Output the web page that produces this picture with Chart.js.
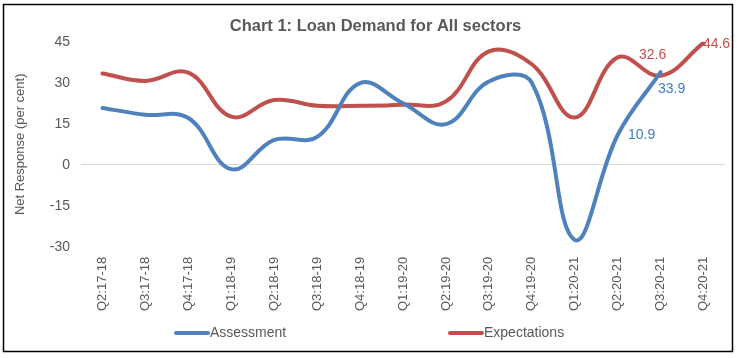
<!DOCTYPE html>
<html>
<head>
<meta charset="utf-8">
<script src="https://cdn.jsdelivr.net/npm/chart.js@4"></script>
<style>
    body { margin: 0; background: #fff; }
    #wrap { width: 737px; height: 358px; }
</style>
</head>
<body>
<div id="wrap"><canvas id="loanChart" width="737" height="358"></canvas></div>
<script>
const quarters = ['Q2:17-18', 'Q3:17-18', 'Q4:17-18', 'Q1:18-19', 'Q2:18-19', 'Q3:18-19', 'Q4:18-19',
    'Q1:19-20', 'Q2:19-20', 'Q3:19-20', 'Q4:19-20', 'Q1:20-21', 'Q2:20-21', 'Q3:20-21', 'Q4:20-21'];
const assessment = [20.8, 18.3, 17.1, -1.6, 9.1, 10.2, 29.9, 22.5, 14.9, 30.5, 30.0, -27.5, 10.9, 33.9, null];
const expectations = [33.4, 30.7, 33.7, 17.6, 23.7, 21.6, 21.6, 22.0, 23.2, 41.5, 36.8, 17.3, 39.3, 32.6, 44.6];
const yTicks = [-30, -15, 0, 15, 30, 45];
// which points carry a value label: [dataset, index]
const labelled = [[0, 12], [0, 13], [1, 13], [1, 14]];

const textGrey = '#595959';
const blue = '#4F81BD';
const red = '#C0504D';

// value labels, frame and legend
const extras = {
    id: 'extras',
    afterDatasetsDraw(chart) {
        const ctx = chart.ctx;
        const offsets = { '0-12': [24, 0], '0-13': [11, 17], '1-13': [-8, -21], '1-14': [13, 1] };
        const labelColors = ['#3D7CCB', red];
        ctx.save();
        ctx.font = '14px "Liberation Sans", Arial, sans-serif';
        ctx.textAlign = 'center';
        ctx.textBaseline = 'middle';
        labelled.forEach(([ds, i]) => {
            const pt = chart.getDatasetMeta(ds).data[i];
            const off = offsets[ds + '-' + i];
            const v = chart.data.datasets[ds].data[i];
            ctx.fillStyle = labelColors[ds];
            ctx.fillText(v.toFixed(1), pt.x + off[0], pt.y + off[1]);
        });
        ctx.restore();
    },
    afterDraw(chart) {
        const ctx = chart.ctx;
        ctx.save();
        // legend
        const items = [{ x: 176, ds: 0 }, { x: 450, ds: 1 }];
        ctx.font = '14px "Liberation Sans", Arial, sans-serif';
        ctx.textBaseline = 'middle';
        ctx.lineCap = 'round';
        items.forEach(it => {
            const d = chart.data.datasets[it.ds];
            ctx.strokeStyle = d.borderColor;
            ctx.lineWidth = 4;
            ctx.beginPath();
            ctx.moveTo(it.x, 333);
            ctx.lineTo(it.x + 32, 333);
            ctx.stroke();
            ctx.fillStyle = textGrey;
            ctx.fillText(d.label, it.x + 34, 333);
        });
        // outer frame
        ctx.strokeStyle = '#000';
        ctx.lineWidth = 1.5;
        ctx.strokeRect(3.5, 4.5, 729, 347);
        ctx.restore();
    }
};

new Chart(document.getElementById('loanChart'), {
    type: 'line',
    data: {
        labels: quarters,
        datasets: [{
            label: 'Assessment',
            data: assessment,
            borderColor: blue,
            backgroundColor: blue,
            borderWidth: 4,
            borderCapStyle: 'round',
            pointRadius: 0,
            tension: 0.4,
            spanGaps: false
        }, {
            label: 'Expectations',
            data: expectations,
            borderColor: red,
            backgroundColor: red,
            borderWidth: 4,
            borderCapStyle: 'round',
            pointRadius: 0,
            tension: 0.4
        }]
    },
    options: {
        responsive: false,
        animation: false,
        layout: { padding: { left: 26, right: 12, top: 4, bottom: 37 } },
        plugins: {
            legend: { display: false },
            tooltip: { enabled: false },
            title: {
                display: true,
                text: 'Chart 1: Loan Demand for All sectors',
                color: textGrey,
                font: { family: '"Liberation Sans", Arial, sans-serif', size: 16.5, weight: 'bold' },
                padding: { top: 13, bottom: 5 }
            }
        },
        scales: {
            x: {
                offset: true,
                grid: { display: false, drawTicks: false },
                border: { display: false },
                ticks: {
                    color: textGrey,
                    font: { family: '"Liberation Sans", Arial, sans-serif', size: 13 },
                    minRotation: 90,
                    maxRotation: 90,
                    autoSkip: false,
                    padding: 10
                }
            },
            y: {
                min: yTicks[0],
                max: yTicks[yTicks.length - 1],
                afterBuildTicks(scale) {
                    scale.ticks = yTicks.map(v => ({ value: v }));
                },
                afterFit(scale) {
                    scale.width = 55;
                },
                grid: {
                    drawTicks: false,
                    color: c => (c.tick && c.tick.value === 0 ? '#D9D9D9' : 'rgba(0,0,0,0)')
                },
                border: { display: false },
                ticks: {
                    color: textGrey,
                    font: { family: '"Liberation Sans", Arial, sans-serif', size: 14 },
                    padding: 11
                },
                title: {
                    display: true,
                    text: 'Net Response (per cent)',
                    color: textGrey,
                    font: { family: '"Liberation Sans", Arial, sans-serif', size: 13 },
                    padding: { top: -13, bottom: 0 }
                }
            }
        }
    },
    plugins: [extras]
});
</script>
</body>
</html>
